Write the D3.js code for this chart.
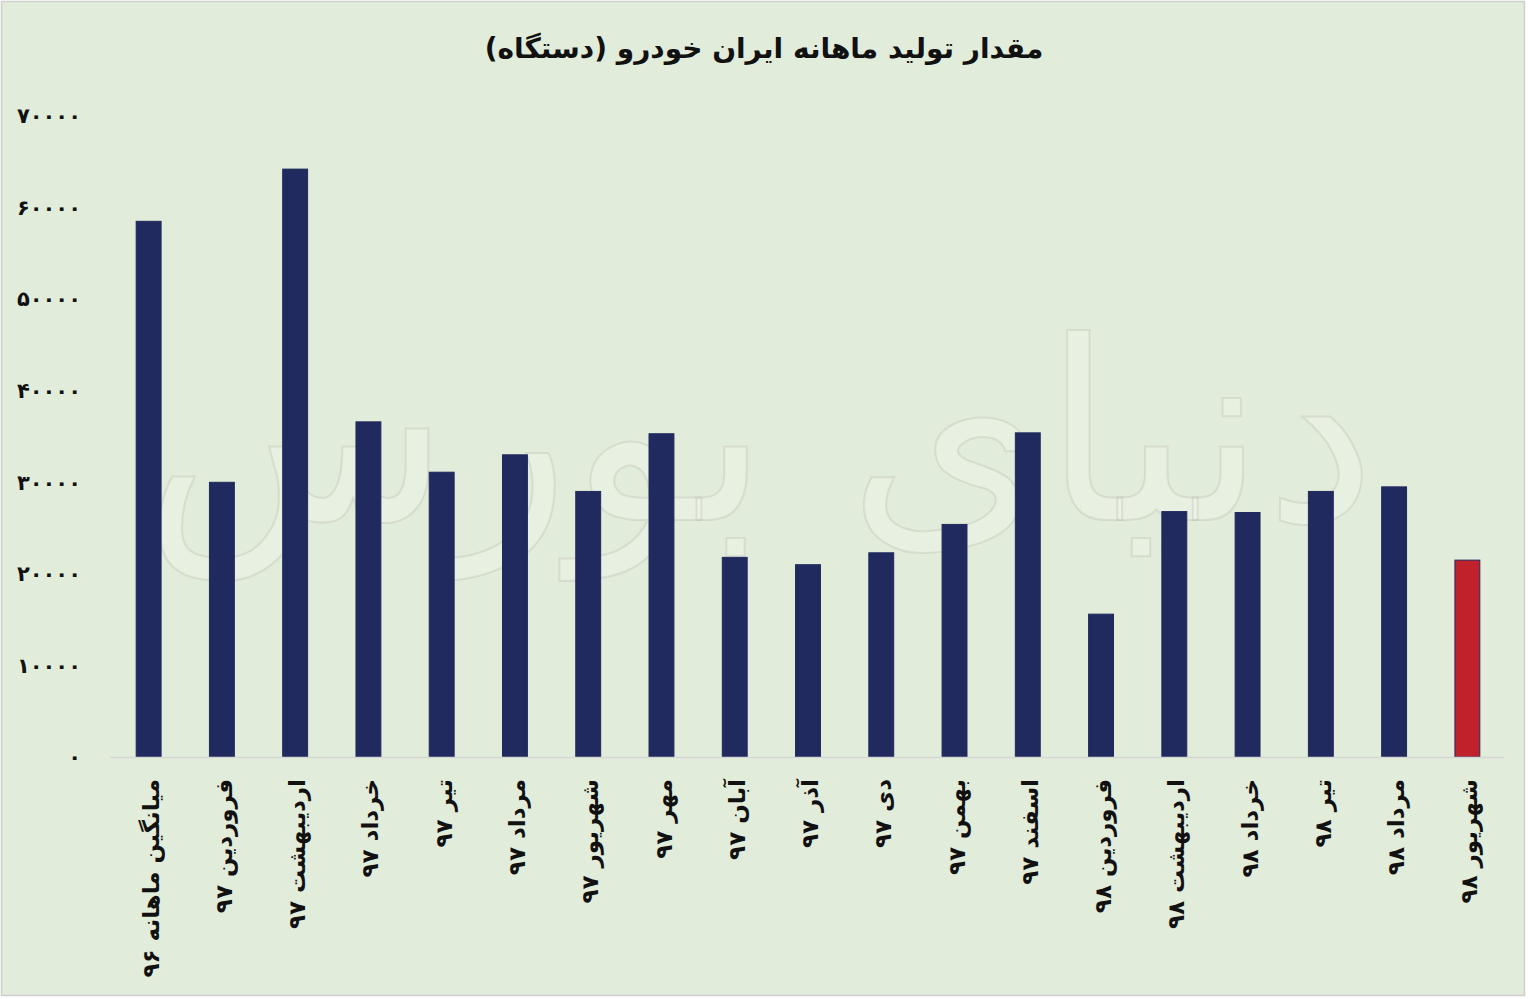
<!DOCTYPE html>
<html>
<head>
<meta charset="utf-8">
<script src="https://cdn.jsdelivr.net/npm/d3@7"></script>
<style>
  html, body { margin: 0; padding: 0; background: #fff; }
  svg { display: block; }
  text { font-family: "DejaVu Sans", "Noto Sans", sans-serif; }
</style>
</head>
<body>
<svg id="chart"></svg>
<script>
const w = 1528,
h = 999,
m = { top: 116, right: 24, bottom: 242, left: 112 },
barColor = "#202A5E",
highlightColor = "#C1212A",
bg = "#E2ECDA";

const title = "مقدار تولید ماهانه ایران خودرو (دستگاه)";
const months = [
  "میانگین ماهانه ۹۶", "فروردین ۹۷", "اردیبهشت ۹۷", "خرداد ۹۷", "تیر ۹۷",
  "مرداد ۹۷", "شهریور ۹۷", "مهر ۹۷", "آبان ۹۷", "آذر ۹۷", "دی ۹۷",
  "بهمن ۹۷", "اسفند ۹۷", "فروردین ۹۸", "اردیبهشت ۹۸", "خرداد ۹۸",
  "تیر ۹۸", "مرداد ۹۸", "شهریور ۹۸"
];
const production = [
  58500, 30000, 64200, 36600, 31100, 33000, 29000, 35300, 21800, 21000,
  22300, 25400, 35400, 15600, 26800, 26700, 29000, 29500, 21500
];
const yTicks = [0, 10000, 20000, 30000, 40000, 50000, 60000, 70000];
const highlighted = ["شهریور ۹۸"];

const faDigits = s => String(s).replace(/\d/g, c => "۰۱۲۳۴۵۶۷۸۹"[c]);

const svg = d3.select("#chart")
    .attr("width", w)
    .attr("height", h)
    .attr("viewBox", [0, 0, w, h]);

svg.append("rect")
    .attr("x", 1.5).attr("y", 1.5)
    .attr("width", w - 5).attr("height", h - 5)
    .attr("fill", bg)
    .attr("stroke", "#CFCFCF")
    .attr("stroke-width", 1.5);

const x = d3.scaleBand()
    .domain(months)
    .range([m.left, w - m.right])
    .paddingInner(0.66)
    .paddingOuter(0.33);

const y = d3.scaleLinear()
    .domain([0, 70000])
    .range([h - m.bottom, m.top]);

// watermark
svg.append("text")
    .attr("x", 760)
    .attr("y", 520)
    .attr("text-anchor", "middle")
    .attr("direction", "rtl")
    .attr("font-size", 250)
    .attr("fill", "#ffffff")
    .attr("fill-opacity", 0.22)
    .attr("stroke", "#9a9a90")
    .attr("stroke-opacity", 0.2)
    .attr("stroke-width", 2)
    .text("دنیای بورس");

svg.append("text")
    .attr("x", w / 2)
    .attr("y", 58)
    .attr("text-anchor", "middle")
    .attr("direction", "rtl")
    .attr("font-size", 28)
    .attr("font-weight", "bold")
    .attr("fill", "#111")
    .text(title);

const yAxis = d3.axisLeft(y)
    .tickValues(yTicks)
    .tickSize(0)
    .tickPadding(0)
    .tickFormat(faDigits);

svg.append("g")
    .attr("transform", `translate(${m.left - 31}, 0)`)
    .call(yAxis)
    .call(g => g.select(".domain").remove())
    .call(g => g.selectAll("text")
        .attr("font-size", 21)
        .attr("font-weight", "bold")
        .attr("fill", "#111"));

svg.append("g")
    .selectAll("rect")
    .data(months)
    .join("rect")
    .attr("x", d => x(d))
    .attr("y", (d, i) => y(production[i]))
    .attr("width", x.bandwidth())
    .attr("height", (d, i) => y(0) - y(production[i]))
    .attr("fill", d => highlighted.includes(d) ? highlightColor : barColor)
    .attr("stroke", barColor)
    .attr("stroke-width", 1);

svg.append("line")
    .attr("x1", m.left - 2)
    .attr("x2", w - m.right)
    .attr("y1", y(0) + 0.5)
    .attr("y2", y(0) + 0.5)
    .attr("stroke", "#D6D6D6")
    .attr("stroke-width", 1.5);

svg.append("g")
    .selectAll("text")
    .data(months)
    .join("text")
    .attr("transform", d => `translate(${x(d) + x.bandwidth() / 2 + 2}, ${y(0) + 22}) rotate(-90)`)
    .attr("direction", "rtl")
    .attr("text-anchor", "start")
    .attr("dy", "0.35em")
    .attr("font-size", 23)
    .attr("font-weight", "bold")
    .attr("fill", "#111")
    .text(d => d);
</script>
</body>
</html>
